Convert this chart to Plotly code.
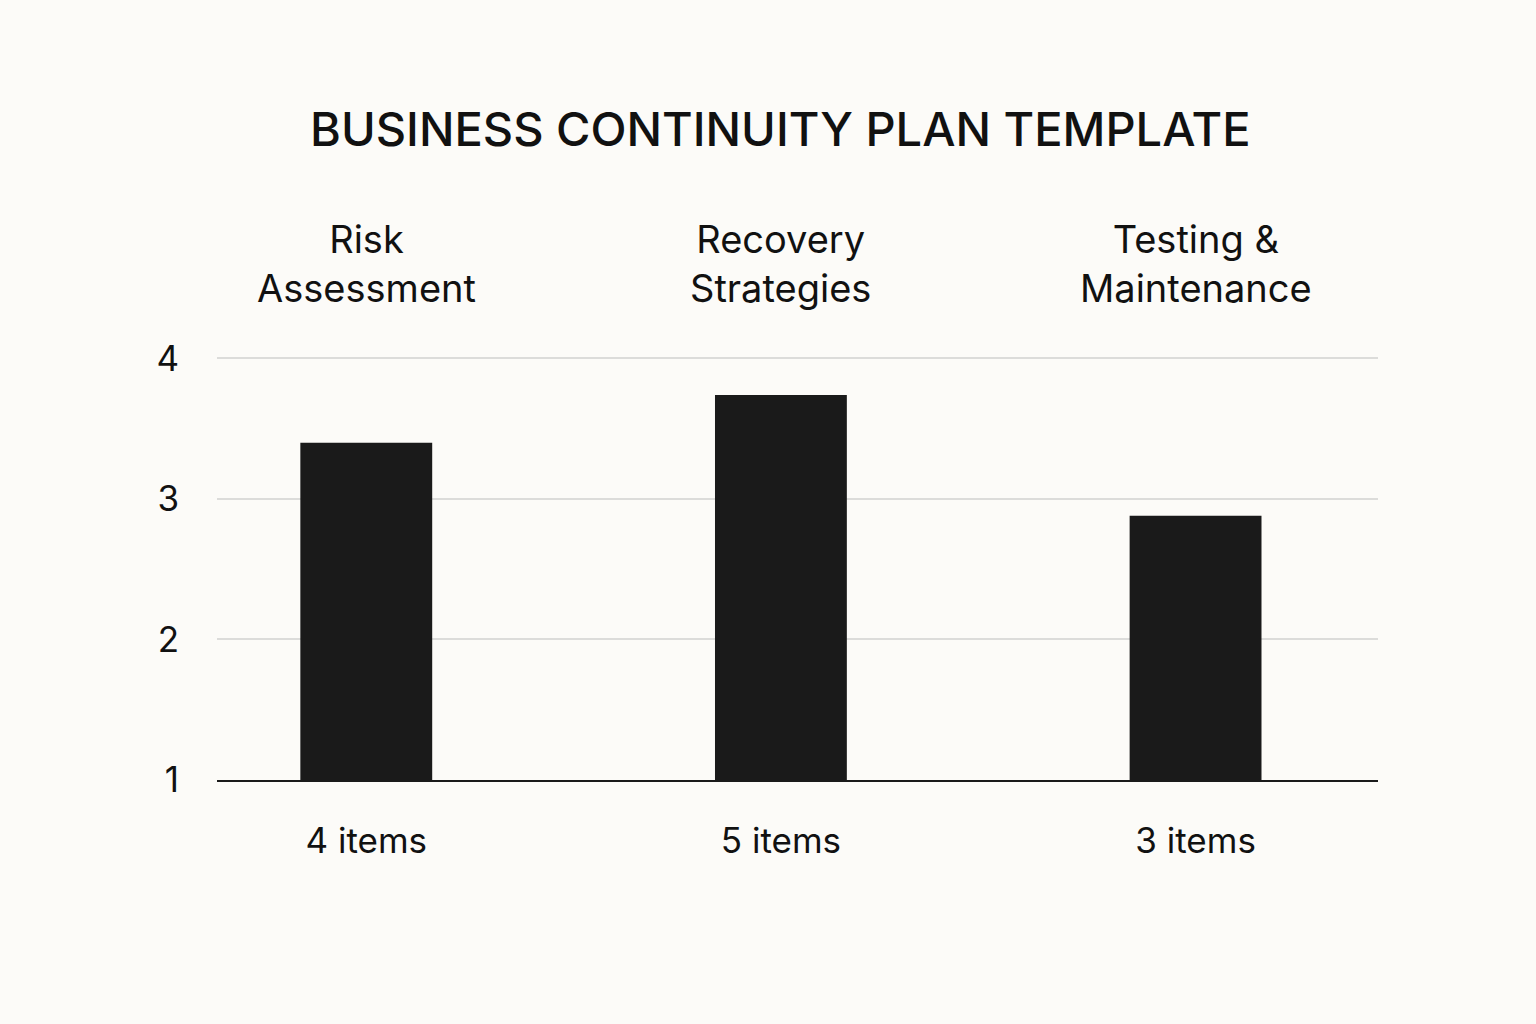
import plotly.graph_objects as go

categories = ['Risk<br>Assessment', 'Recovery<br>Strategies', 'Testing &<br>Maintenance']
values = [3.4, 3.74, 2.88]
item_labels = ['4 items', '5 items', '3 items']
y_ticks = [1, 2, 3, 4]

BG = '#FCFBF8'
INK = '#1A1A1A'
TEXT = '#111111'
FONT = 'Inter, Roboto, sans-serif'

x_pos = list(range(len(categories)))

fig = go.Figure()
fig.add_trace(go.Bar(
    x=x_pos, y=[v - 1 for v in values], base=1,
    width=0.318,
    marker=dict(color=INK, line=dict(width=0)),
    hoverinfo='skip',
))

# category names sit above the plot area
for xi, label in zip(x_pos, categories):
    fig.add_annotation(
        x=xi, y=1, xref='x', yref='paper', yanchor='bottom',
        text=label, showarrow=False, yshift=44,
        font=dict(family=FONT, size=38, color=TEXT),
    )

fig.update_layout(
    width=1536, height=1024,
    paper_bgcolor=BG, plot_bgcolor=BG,
    margin=dict(l=217, r=158, t=357, b=244),
    showlegend=False,
    font=dict(family=FONT, color=TEXT),
    title=dict(
        text='BUSINESS CONTINUITY PLAN TEMPLATE',
        x=0.508, xanchor='center', y=0.873, yanchor='middle',
        font=dict(family=FONT, size=47, weight=500, color=TEXT),
    ),
)
fig.update_xaxes(
    range=[-0.36, 2.44],
    tickmode='array', tickvals=x_pos, ticktext=item_labels,
    tickfont=dict(size=35, family=FONT, color=TEXT),
    ticks='', ticklabelstandoff=29,
    showgrid=False, zeroline=False,
    showline=True, linecolor=INK, linewidth=2,
)
fig.update_yaxes(
    range=[1, 4.01],
    tickmode='array', tickvals=y_ticks,
    tickfont=dict(size=35, family=FONT, color=TEXT),
    ticks='', ticklabelstandoff=37,
    showgrid=True, gridcolor='#DCDCDA', gridwidth=1.5,
    zeroline=False, showline=False,
)

fig.write_html(
    'out.html',
    config={'displayModeBar': False},
    post_script="document.body.style.margin='0';document.body.style.background='%s';" % BG,
)
